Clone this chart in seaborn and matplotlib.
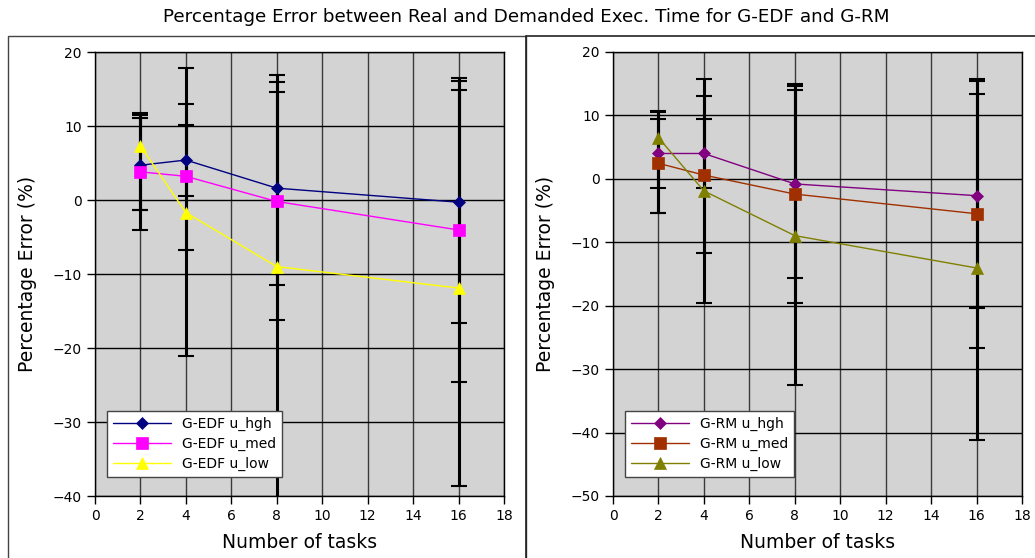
import numpy as np
import pandas as pd
import matplotlib
matplotlib.use("Agg")
import matplotlib.pyplot as plt
from matplotlib.patches import Rectangle
import seaborn as sns

# ---------------- data ----------------
tasks = [2, 4, 8, 16]

edf_labels = ["G-EDF u_hgh", "G-EDF u_med", "G-EDF u_low"]
edf_hgh = [4.7, 5.4, 1.6, -0.3]
edf_med = [3.8, 3.2, -0.2, -4.05]
edf_low = [7.3, -1.7, -9.0, -11.9]
edf_hgh_lo = [-1.4, -6.7, -16.2, -24.6]
edf_hgh_hi = [11.45, 13.0, 15.9, 16.1]
edf_med_lo = [-4.1, 0.5, -11.5, -16.6]
edf_med_hi = [11.1, 10.2, 14.6, 14.9]
edf_low_lo = [-1.4, -21.1, -45.0, -38.6]
edf_low_hi = [11.8, 17.9, 16.9, 16.5]

rm_labels = ["G-RM u_hgh", "G-RM u_med", "G-RM u_low"]
rm_hgh = [4.0, 4.0, -0.8, -2.65]
rm_med = [2.45, 0.6, -2.4, -5.5]
rm_low = [6.5, -1.9, -8.95, -14.05]
rm_hgh_lo = [-1.4, -11.7, -15.6, -20.3]
rm_hgh_hi = [10.5, 13.0, 14.6, 15.4]
rm_med_lo = [-5.4, -1.4, -19.6, -26.7]
rm_med_hi = [9.4, 9.4, 14.0, 13.4]
rm_low_lo = [-5.4, -19.6, -32.5, -41.2]
rm_low_hi = [10.7, 15.8, 14.9, 15.7]

edf_colors = ["#000080", "#ff00ff", "#ffff00"]
rm_colors = ["#800080", "#a03000", "#808000"]
markers = ["D", "s", "^"]
msizes = [6, 8, 8]

sns.set_style("white")
plt.rcParams["font.family"] = ["DejaVu Sans"]
plt.rcParams["text.color"] = "black"
plt.rcParams["axes.labelcolor"] = "black"
plt.rcParams["xtick.color"] = "black"
plt.rcParams["ytick.color"] = "black"

fig = plt.figure(figsize=(10.35, 5.58), dpi=100)
ax1 = fig.add_axes([95 / 1035, 1 - 496 / 558, 409 / 1035, 444 / 558])
ax2 = fig.add_axes([613 / 1035, 1 - 496 / 558, 409 / 1035, 444 / 558])

# panel frames
fig.add_artist(Rectangle((8 / 1035, -0.05), (526 - 8) / 1035, 1 - 36 / 558 + 0.05,
                         transform=fig.transFigure, fill=False, edgecolor="#444444", lw=1.0))
fig.add_artist(Rectangle((526 / 1035, -0.05), 0.6, 1 - 36 / 558 + 0.05,
                         transform=fig.transFigure, fill=False, edgecolor="#222222", lw=1.2))


def panel(ax, labels, vals, los, his, colors, ylim, yticks):
    ax.set_facecolor("#d3d3d3")
    for v, lo, hi in zip(vals, los, his):
        v = np.array(v); lo = np.array(lo); hi = np.array(hi)
        ax.errorbar(tasks, v, yerr=[v - lo, hi - v], fmt="none", ecolor="black",
                    elinewidth=2.2, capsize=5.5, capthick=1.5, zorder=3)
    for lab, v, c, m, ms in zip(labels, vals, colors, markers, msizes):
        df = pd.DataFrame({"tasks": tasks, "err": v})
        sns.lineplot(data=df, x="tasks", y="err", ax=ax, color=c, marker=m,
                     markersize=ms, markeredgecolor=c, markeredgewidth=0.5,
                     linewidth=1.0, label=lab, zorder=4)
    ax.set_xlim(0, 18)
    ax.set_ylim(*ylim)
    ax.set_xticks(np.arange(0, 19, 2))
    ax.set_yticks(yticks)
    ax.xaxis.grid(True, color="#3a3a3a", lw=1.0)
    ax.yaxis.grid(True, color="black", lw=1.0)
    ax.set_axisbelow(True)
    for s in ax.spines.values():
        s.set_color("black")
        s.set_linewidth(1.0)
        s.set_visible(True)
    ax.tick_params(axis="both", direction="out", length=6, width=1.0,
                   color="black", labelcolor="black", labelsize=10, left=True, bottom=True)
    ax.set_xlabel("Number of tasks", fontsize=13.5, labelpad=7)
    ax.set_ylabel("Percentage Error (%)", fontsize=13.5, labelpad=11)
    leg = ax.legend(loc="lower left", bbox_to_anchor=(12 / 409, 19 / 444),
                    borderaxespad=0, fontsize=10, fancybox=False, framealpha=1,
                    edgecolor="#444444", handlelength=4.2, labelspacing=0.45,
                    markerscale=1.1)
    leg.get_frame().set_linewidth(1.0)


panel(ax1, edf_labels, [edf_hgh, edf_med, edf_low],
      [edf_hgh_lo, edf_med_lo, edf_low_lo], [edf_hgh_hi, edf_med_hi, edf_low_hi],
      edf_colors, (-40, 20), np.arange(-40, 21, 10))
panel(ax2, rm_labels, [rm_hgh, rm_med, rm_low],
      [rm_hgh_lo, rm_med_lo, rm_low_lo], [rm_hgh_hi, rm_med_hi, rm_low_hi],
      rm_colors, (-50, 20), np.arange(-50, 21, 10))

fig.text(0.508, 1 - 17 / 558, "Percentage Error between Real and Demanded Exec. Time for G-EDF and G-RM",
         ha="center", va="center", fontsize=13.2)

fig.savefig("out.png", dpi=100)
